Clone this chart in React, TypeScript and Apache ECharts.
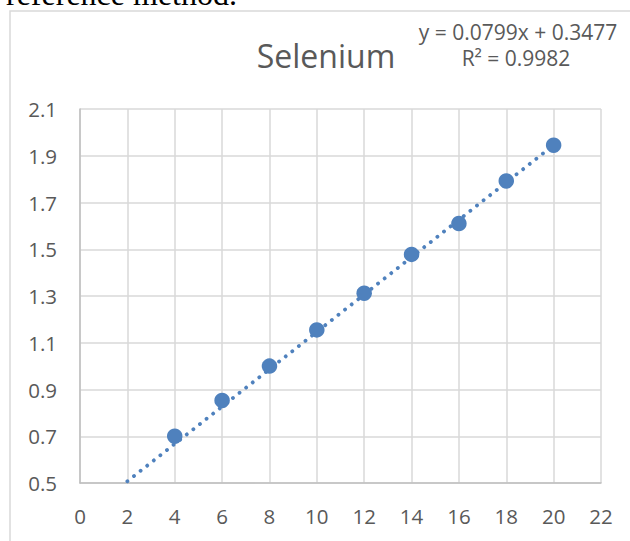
import React, { useEffect, useRef } from "react";
import * as echarts from "echarts";

const xValues = [4, 6, 8, 10, 12, 14, 16, 18, 20];
const yValues = [0.70, 0.853, 1.0, 1.155, 1.312, 1.478, 1.61, 1.792, 1.945];
const slope = 0.0799;
const intercept = 0.3477;
const rSquared = 0.9982;
const trendXRange = [2, 20];
const chartTitle = "Selenium";
const pageText = "reference method.";

const FONT = "'Open Sans', 'Noto Sans', sans-serif";
const TEXT = "#595959";
const BLUE = "#4f81bd";

export default function App() {
  const ref = useRef<HTMLDivElement>(null);
  useEffect(() => {
    if (!ref.current) return;
    const chart = echarts.init(ref.current, undefined, { renderer: "svg" });
    const points = xValues.map((x, i) => [x, yValues[i]]);
    const trend = trendXRange.map((x) => [x, slope * x + intercept]);
    chart.setOption({
      animation: false,
      backgroundColor: "#ffffff",
      grid: { left: 80, right: 29, top: 109, bottom: 58, containLabel: false },
      xAxis: {
        type: "value",
        min: 0,
        max: 22,
        interval: 2,
        axisLine: { show: true, onZero: false, lineStyle: { color: "#bfbfbf", width: 1.5 } },
        axisTick: { show: false },
        axisLabel: { color: TEXT, fontFamily: FONT, fontSize: 20.5, margin: 22 },
        splitLine: { show: true, lineStyle: { color: "#d9d9d9", width: 1.5 } },
      },
      yAxis: {
        type: "value",
        min: 0.5,
        max: 2.1,
        interval: 0.2,
        axisLine: { show: true, onZero: false, lineStyle: { color: "#bfbfbf", width: 1.5 } },
        axisTick: { show: false },
        axisLabel: {
          color: TEXT,
          fontFamily: FONT,
          fontSize: 20.5,
          margin: 23,
          formatter: (v: number) => v.toFixed(1),
        },
        splitLine: { show: true, lineStyle: { color: "#d9d9d9", width: 1.5 } },
      },
      series: [
        {
          type: "line",
          data: trend,
          showSymbol: false,
          symbol: "none",
          lineStyle: { color: BLUE, width: 3.8, type: [0.1, 8.3], cap: "round" },
          z: 2,
        },
        {
          type: "scatter",
          data: points,
          symbolSize: 15.5,
          itemStyle: { color: BLUE, opacity: 1 },
          z: 3,
        },
      ],
      graphic: [
        {
          type: "rect",
          shape: { x: 10, y: 11, width: 640, height: 560 },
          style: { fill: "none", stroke: "#d9d9d9", lineWidth: 1.5 },
          silent: true,
        },
        {
          type: "text",
          x: 6,
          y: 10,
          style: {
            text: pageText,
            font: "32px 'Liberation Serif', 'Times New Roman', serif",
            fill: "#000000",
            textAlign: "left",
            textVerticalAlign: "bottom",
          },
        },
        {
          type: "text",
          x: 326,
          y: 55,
          style: {
            text: chartTitle,
            font: `32px ${FONT}`,
            fill: TEXT,
            textAlign: "center",
            textVerticalAlign: "middle",
          },
        },
        {
          type: "text",
          x: 518,
          y: 32,
          style: {
            text: `y = ${slope}x + ${intercept}`,
            font: `21px ${FONT}`,
            fill: TEXT,
            textAlign: "center",
            textVerticalAlign: "middle",
          },
        },
        {
          type: "text",
          x: 516,
          y: 58,
          style: {
            text: `R² = ${rSquared}`,
            font: `21px ${FONT}`,
            fill: TEXT,
            textAlign: "center",
            textVerticalAlign: "middle",
          },
        },
      ],
    });
    return () => chart.dispose();
  }, []);
  return (
    <div
      ref={ref}
      style={{ position: "absolute", left: 0, top: 0, width: 630, height: 541 }}
    />
  );
}
